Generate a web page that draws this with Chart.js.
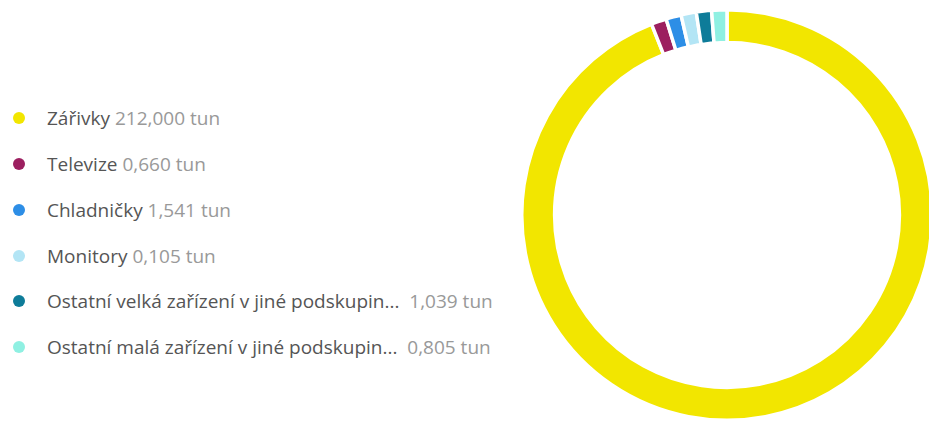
<!DOCTYPE html>
<html>
<head>
<meta charset="utf-8">
<script src="https://cdn.jsdelivr.net/npm/chart.js@4.4.1/dist/chart.umd.min.js"></script>
<style>
  html,body{margin:0;padding:0;background:#fff;overflow:hidden;width:929px;height:433px;}
  #legend{position:absolute;left:0;top:0;font-family:"Segoe UI","Open Sans",sans-serif;font-size:19px;}
  .li{position:absolute;left:13px;height:24px;line-height:24px;white-space:nowrap;}
  .dot{position:absolute;left:0;top:6px;width:12px;height:12px;border-radius:50%;}
  .lbl{position:absolute;left:34px;top:0;color:#555;}
  .val{color:#999;}
  #wrap{position:absolute;left:520px;top:8px;width:414px;height:414px;}
</style>
</head>
<body>
<div id="legend"></div>
<div id="wrap"><canvas id="c"></canvas></div>
<script>
/* ===== data ===== */
const categories = ['Zářivky','Televize','Chladničky','Monitory','Ostatní velká zařízení v jiné podskupin...','Ostatní malá zařízení v jiné podskupin...'];
const valuesTun = [212.000, 0.660, 1.541, 0.105, 1.039, 0.805];
const valueLabels = ['212,000 tun','0,660 tun','1,541 tun','0,105 tun','1,039 tun','0,805 tun'];
const colors = ['#F2E600','#9C1F60','#2D8EE6','#B3E5F5','#0E7C99','#8FF0E2'];

// like Power BI: tiny slices get a minimum visible share of the ring
const MIN_SHARE = 0.0125;
const total = valuesTun.reduce((a,b)=>a+b,0);
const drawn = valuesTun.map(v=>Math.max(v, total*MIN_SHARE));

/* ===== legend ===== */
const legendTops = [118,164,210,256,301,347];
document.getElementById('legend').innerHTML = categories.map((c,i)=>
  `<div class="li" style="top:${legendTops[i]-12}px"><span class="dot" style="background:${colors[i]}"></span><span class="lbl">${c}${i>=4?'&nbsp; ':' '}<span class="val">${valueLabels[i]}</span></span></div>`
).join('');

/* ===== doughnut ===== */
new Chart(document.getElementById('c'), {
  type:'doughnut',
  data:{ labels:categories, datasets:[{ data:drawn, backgroundColor:colors, borderColor:'#fff', borderWidth:3.5, hoverOffset:0 }]},
  options:{ responsive:true, maintainAspectRatio:false, animation:false, cutout:'84%',
    layout:{padding:0},
    plugins:{ legend:{display:false}, tooltip:{enabled:false} } }
});
</script>
</body>
</html>
